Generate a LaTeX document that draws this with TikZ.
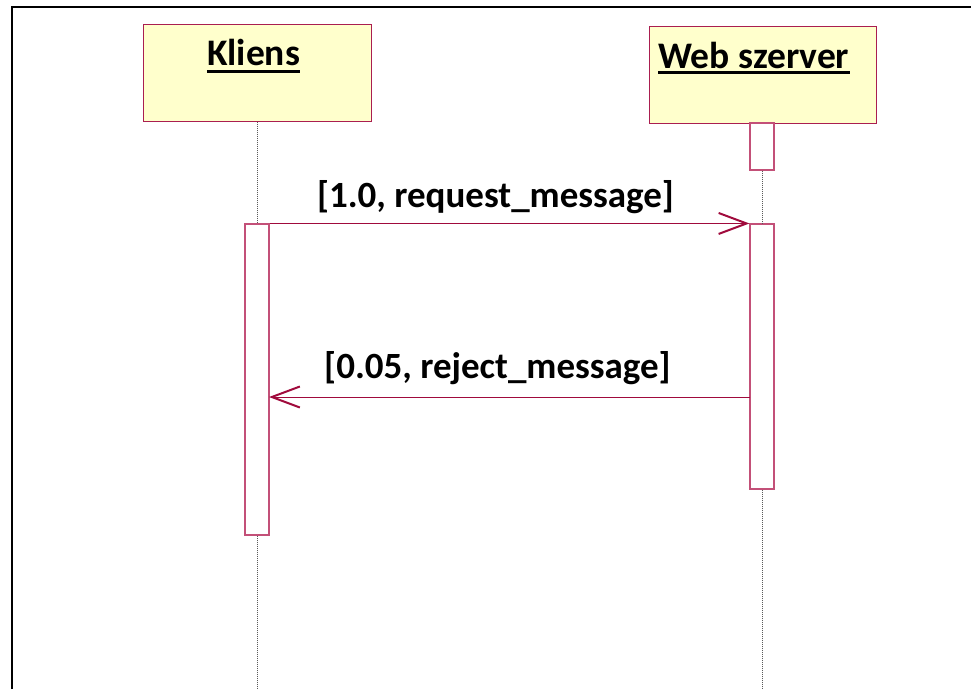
\documentclass[tikz,border=0pt]{standalone}
\usepackage{fontspec}
\setmainfont{Carlito}
\usetikzlibrary{arrows.meta}
\definecolor{boxborder}{RGB}{170,30,80}
\definecolor{actborder}{RGB}{195,80,120}
\definecolor{msgcol}{RGB}{160,10,60}
\definecolor{boxfill}{RGB}{255,255,204}
\definecolor{lifecol}{RGB}{90,90,90}
\tikzset{
  objbox/.style={draw=boxborder, fill=boxfill, line width=1pt, inner sep=0pt},
  actbox/.style={draw=actborder, fill=white, line width=1.1pt, inner sep=0pt, minimum width=24pt},
  lifeline/.style={draw=lifecol, densely dotted, line width=1pt},
  msgline/.style={draw=msgcol, line width=1pt, -{Straight Barb[length=28pt,width=21pt,line width=2pt]}},
  hdr/.style={font=\bfseries\fontsize{37.5}{44}\selectfont, inner sep=0pt},
  lbl/.style={font=\bfseries\fontsize{37}{44}\selectfont, inner sep=0pt},
  uline/.style={draw=black, line width=3pt},
}
\begin{document}
\begin{tikzpicture}[x=1pt,y=-1pt]
\useasboundingbox (0,0) rectangle (971,689);
% frame
\draw[line width=2pt, black] (11.5,689) -- (11.5,6.5) -- (971,6.5);
% object boxes
\node[objbox, minimum width=228pt, minimum height=97pt] (kbox) at (257,72.5) {};
\node[objbox, minimum width=227pt, minimum height=97pt] (wbox) at (762.5,74.5) {};
\node[hdr, anchor=base] (ktext) at (253.5,65) {Kliens};
\node[hdr, anchor=base west] (wtext) at (658,68) {Web szerver};
\draw[uline] ([yshift=-6pt]ktext.base west) -- ([yshift=-6pt]ktext.base east);
\draw[uline] ([yshift=-4pt]wtext.base west) -- ([yshift=-4pt]wtext.base east);
% bottom coordinates
\coordinate (kend) at (257,689);
\coordinate (wend) at (762,689);
% activations
\node[actbox, minimum height=47pt] (wact1) at (762,146.5) {};
\node[actbox, minimum height=265pt] (wact2) at (762,356.5) {};
\node[actbox, minimum height=311pt] (kact) at (257,379.5) {};
% lifelines
\draw[lifeline] (kbox.south) -- (kact.north);
\draw[lifeline] (kact.south) -- (kend);
\draw[lifeline] (wact1.south) -- (wact2.north);
\draw[lifeline] (wact2.south) -- (wend);
% messages
\coordinate (rejS) at (750,397);
\coordinate (rejE) at (269,397);
\draw[msgline] (kact.north east) -- (wact2.north west);
\draw[msgline] (rejS) -- (rejE);
\node[lbl] (l1) at (495.5,197) {[1.0, request\_message]};
\node[lbl] (l2) at (497.5,368) {[0.05, reject\_message]};
\end{tikzpicture}
\end{document}
